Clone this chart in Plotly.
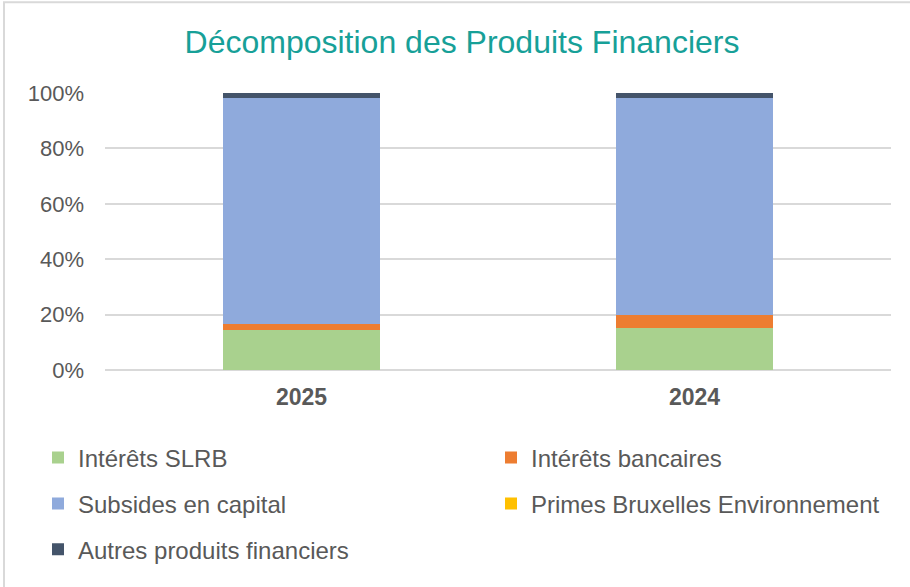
import plotly.graph_objects as go

years = ["2025", "2024"]
series_names = ["Intérêts SLRB", "Intérêts bancaires", "Subsides en capital",
                "Primes Bruxelles Environnement", "Autres produits financiers"]
slrb = [0.143, 0.152]
bancaires = [0.022, 0.047]
subsides = [0.817, 0.783]
primes = [0.0, 0.0]
autres = [0.018, 0.018]
colors = ["#A9D18E", "#ED7D31", "#8FAADC", "#FFC000", "#44546A"]
values = [slrb, bancaires, subsides, primes, autres]
y_ticks = [0, 0.2, 0.4, 0.6, 0.8, 1.0]

L, R, T, B = 105, 19, 93, 216.5
W, H = 910, 587
pw, ph = W - L - R, H - T - B

def px_x(x):
    return (x - L) / pw

def px_y(y):
    return (H - B - y) / ph

FONT = "Liberation Sans"

# legend positions (pixel coords of legend boxes)
leg_pos = [(38, 436), (491, 436), (38, 482), (491, 482), (38, 528)]
legend_ids = ["legend", "legend2", "legend3", "legend4", "legend5"]

fig = go.Figure()
for name, vals, col, lid in zip(series_names, values, colors, legend_ids):
    fig.add_trace(go.Bar(x=years, y=vals, name=name, marker=dict(color=col, line=dict(width=0)),
                         legend=lid))

layout_legends = {}
for lid, (lx, ly) in zip(legend_ids, leg_pos):
    layout_legends[lid] = dict(x=px_x(lx), y=px_y(ly), xanchor="left", yanchor="top",
                               xref="paper", yref="paper", bgcolor="rgba(0,0,0,0)",
                               font=dict(family=FONT, size=24, color="#595959"),
                               itemwidth=30, borderwidth=0)

fig.update_layout(
    width=W, height=H,
    margin=dict(l=L, r=R, t=T, b=B, autoexpand=False),
    barmode="stack", bargap=0.6,
    paper_bgcolor="white", plot_bgcolor="white",
    title=dict(text="Décomposition des Produits Financiers", x=(462) / W, xanchor="center",
               y=1 - 42 / H, yanchor="middle",
               font=dict(family=FONT, size=32, color="#17A098")),
    xaxis=dict(type="category", tickfont=dict(family=FONT, size=23, color="#595959", weight="bold"),
               showline=False, ticks="", showgrid=False, ticklabelstandoff=11),
    yaxis=dict(range=[0, 1], tickvals=y_ticks, tickformat=".0%",
               tickfont=dict(family=FONT, size=22, color="#595959"),
               gridcolor="#D9D9D9", gridwidth=1.5, zeroline=True, zerolinecolor="#D9D9D9",
               zerolinewidth=1.5, showline=False, ticks="", ticklabelstandoff=20),
    showlegend=True,
    shapes=[dict(type="rect", xref="paper", yref="paper",
                 x0=px_x(4), x1=px_x(W + 20), y0=px_y(H + 20), y1=px_y(2),
                 line=dict(color="#D9D9D9", width=2), fillcolor="rgba(0,0,0,0)", layer="below")],
    **layout_legends,
)

fig.write_html("out.html", post_script="document.body.style.margin='0px';",
               config={"displayModeBar": False})
